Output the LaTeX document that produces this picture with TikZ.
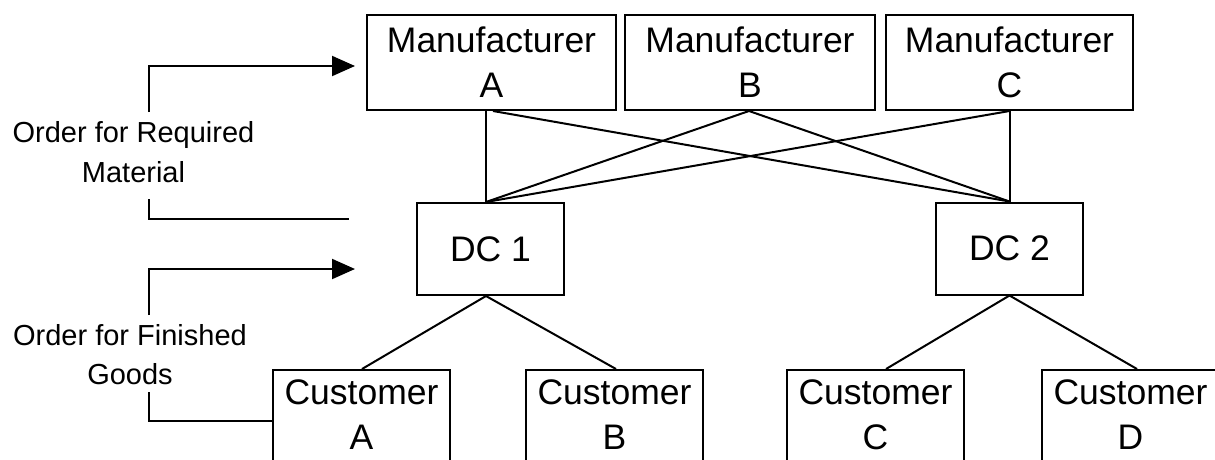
\documentclass[tikz,border=0pt]{standalone}
\usepackage{fontspec}
\setmainfont{Liberation Sans}
\usetikzlibrary{arrows.meta}

\begin{document}
\begin{tikzpicture}[x=1pt,y=-1pt,line width=2pt,
  boxfont/.style={font=\fontsize{35.5}{45}\selectfont},
  mfr/.style={draw,boxfont,align=center,minimum width=#1,minimum height=95,inner sep=0pt},
  dc/.style={draw,boxfont,minimum width=147,minimum height=92,inner sep=0pt},
  cust/.style={draw,boxfont,align=center,anchor=north,minimum width=177,
    inner xsep=0pt,inner ysep=10pt,text depth=80pt},
  lbl/.style={font=\fontsize{29}{39.5}\selectfont,align=center,inner sep=0pt},
  link/.style={line width=2pt},
  order/.style={line width=2pt},
  orderarrow/.style={line width=2pt,-{Triangle[length=23pt,width=20pt]}}]
\clip (0,0) rectangle (1215,459);

% manufacturers
\node[mfr=249] (ma) at (491.5,62.5) {Manufacturer\\A};
\node[mfr=250] (mb) at (750,62.5) {Manufacturer\\B};
\node[mfr=247] (mc) at (1009.5,62.5) {Manufacturer\\C};

% distribution centres
\node[dc] (dc1) at (490.5,249) {DC 1};
\node[dc] (dc2) at (1009.5,248.5) {DC 2};

% customers (boxes run past the lower edge)
\node[cust] (ca) at (361.5,369) {Customer\\A};
\node[cust] (cb) at (614.5,369) {Customer\\B};
\node[cust] (cc) at (875.5,369) {Customer\\C};
\node[cust] (cd) at (1130.5,369) {Customer\\D};

% manufacturer to DC links
\draw[link] ([xshift=-5.5pt]ma.south) -- ([xshift=-4.5pt]dc1.north);
\draw[link] ([xshift=1.5pt]ma.south) -- (dc2.north);
\draw[link] ([xshift=-1pt]mb.south) -- ([xshift=-4.5pt]dc1.north);
\draw[link] ([xshift=-1pt]mb.south) -- (dc2.north);
\draw[link] (mc.south) -- ([xshift=-4.5pt]dc1.north);
\draw[link] (mc.south) -- (dc2.north);

% DC to customer links
\draw[link] ([xshift=-4.5pt]dc1.south) -- ([xshift=0.5pt]ca.north);
\draw[link] ([xshift=-4.5pt]dc1.south) -- ([xshift=1.5pt]cb.north);
\draw[link] (dc2.south) -- ([xshift=10.5pt]cc.north);
\draw[link] (dc2.south) -- ([xshift=6.5pt]cd.north);

% order flows
\node[lbl] (ordmat) at (133.5,152) {Order for Required\\Material};
\node[lbl] (ordfin) at (130,354.5) {Order for Finished\\Goods};

\coordinate (m1) at (149,112);
\coordinate (m2) at (149,66);
\coordinate (m3) at (355,66);
\coordinate (m4) at (149,199);
\coordinate (m5) at (149,219);
\coordinate (m6) at (349,219);
\draw[orderarrow] (m1) -- (m2) -- (m3);
\draw[order] (m4) -- (m5) -- (m6);

\coordinate (f1) at (149,315);
\coordinate (f2) at (149,269);
\coordinate (f3) at (355,269);
\coordinate (f4) at (149,392);
\coordinate (f5) at (149,421);
\draw[orderarrow] (f1) -- (f2) -- (f3);
\draw[order] (f4) -- (f5) -- (f5 -| ca.west);
\end{tikzpicture}
\end{document}
